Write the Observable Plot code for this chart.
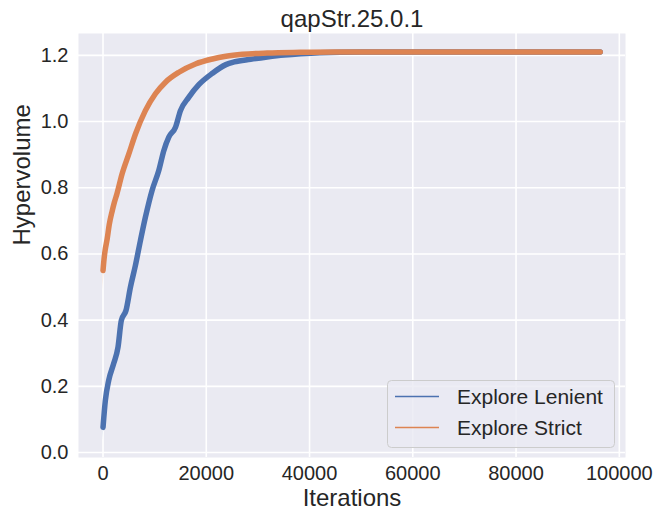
<!DOCTYPE html>
<html>
<head>
<meta charset="utf-8">
<script src="https://cdn.jsdelivr.net/npm/d3@7"></script>
<script src="https://cdn.jsdelivr.net/npm/@observablehq/plot@0.6"></script>
<style>
  html, body { margin: 0; padding: 0; background: white; }
  #chart { position: relative; width: 654px; height: 519px; }
  #legend { position: absolute; left: 387px; top: 380px; }
</style>
</head>
<body>
<div id="chart"></div>
<script>
// Mean hypervolume per iteration for the two exploration modes
const iterationsLenient = [0, 450, 1100, 2050, 2900, 3550, 4450, 5300, 6270, 7240, 8210, 9500, 10800, 11770, 12740, 14040, 15000, 16600, 18600, 21200, 23800, 25400, 28600, 31800, 35100, 38300, 42000, 50000, 70000, 96300];
const hvLenient = [0.076, 0.157, 0.218, 0.268, 0.318, 0.399, 0.429, 0.499, 0.565, 0.640, 0.711, 0.792, 0.852, 0.912, 0.953, 0.983, 1.033, 1.073, 1.112, 1.146, 1.172, 1.180, 1.188, 1.195, 1.201, 1.205, 1.208, 1.210, 1.210, 1.210];

const iterationsStrict = [0, 200, 400, 800, 1200, 1750, 2200, 2700, 3700, 5000, 6300, 8200, 10150, 12100, 14700, 17900, 21200, 23800, 27000, 31800, 38300, 45000, 60000, 80000, 96300];
const hvStrict = [0.550, 0.585, 0.610, 0.645, 0.688, 0.728, 0.756, 0.782, 0.842, 0.902, 0.963, 1.033, 1.084, 1.119, 1.149, 1.174, 1.189, 1.197, 1.203, 1.207, 1.209, 1.210, 1.210, 1.210, 1.210];

// Confidence band around the early part of each curve
const bandLenientX = [0, 450, 1100, 2050, 2900, 3550, 4450, 5300];
const bandLenientLo = [0.036, 0.140, 0.205, 0.255, 0.300, 0.385, 0.415, 0.490];
const bandLenientHi = [0.090, 0.170, 0.232, 0.282, 0.335, 0.410, 0.445, 0.510];
const bandStrictX = [0, 400, 800];
const bandStrictLo = [0.490, 0.590, 0.635];
const bandStrictHi = [0.560, 0.620, 0.655];

const seriesNames = ["Explore Lenient", "Explore Strict"];
const seriesColors = ["#4C72B0", "#DD8452"];

const xTicks = [0, 20000, 40000, 60000, 80000, 100000];
const yTicks = [0, 0.2, 0.4, 0.6, 0.8, 1.0, 1.2];

const chartTitle = "qapStr.25.0.1";
const xLabel = "Iterations";
const yLabel = "Hypervolume";

const rows = [
  ...iterationsLenient.map((x, i) => ({series: seriesNames[0], x, y: hvLenient[i]})),
  ...iterationsStrict.map((x, i) => ({series: seriesNames[1], x, y: hvStrict[i]}))
];
const bands = [
  ...bandLenientX.map((x, i) => ({series: seriesNames[0], x, lo: bandLenientLo[i], hi: bandLenientHi[i]})),
  ...bandStrictX.map((x, i) => ({series: seriesNames[1], x, lo: bandStrictLo[i], hi: bandStrictHi[i]}))
];

const font = "'Liberation Sans', Arial, Helvetica, sans-serif";
const ink = "#262626";

const plot = Plot.plot({
  width: 654,
  height: 519,
  marginLeft: 78,
  marginRight: 29,
  marginTop: 33,
  marginBottom: 62,
  style: {fontFamily: font, fontSize: "20px", color: ink, background: "white"},
  x: {domain: [-4750, 101200], label: null},
  y: {domain: [-0.015, 1.266], label: null},
  color: {domain: seriesNames, range: seriesColors},
  marks: [
    Plot.frame({fill: "#EAEAF2", stroke: null}),
    Plot.gridX(xTicks, {stroke: "white", strokeOpacity: 1, strokeWidth: 1.6}),
    Plot.gridY(yTicks, {stroke: "white", strokeOpacity: 1, strokeWidth: 1.6}),
    Plot.axisX({ticks: xTicks, tickFormat: d3.format("d"), tickSize: 0, tickPadding: 8, fontSize: 20, label: null}),
    Plot.axisY({ticks: yTicks, tickFormat: d3.format(".1f"), tickSize: 0, tickPadding: 10, fontSize: 20, label: null}),
    Plot.areaY(bands, {x: "x", y1: "lo", y2: "hi", z: "series", fill: "series", fillOpacity: 0.2, curve: "monotone-x"}),
    Plot.line(rows, {x: "x", y: "y", z: "series", stroke: "series", strokeWidth: 5.5, strokeLinecap: "round", strokeLinejoin: "round", curve: "monotone-x"}),
    Plot.text([chartTitle], {frameAnchor: "top", dy: -7, lineAnchor: "bottom", fontSize: 24, fill: ink}),
    Plot.text([xLabel], {frameAnchor: "bottom", dy: 48, lineAnchor: "bottom", fontSize: 24, fill: ink}),
    Plot.text([yLabel], {frameAnchor: "left", dx: -49, rotate: -90, lineAnchor: "bottom", fontSize: 24, fill: ink})
  ]
});

const chart = document.getElementById("chart");
chart.appendChild(plot);

// Legend box in the lower right of the plotting area
const legendW = 228, legendH = 68, rowGap = 31;
const legend = d3.select(chart).append("svg")
  .attr("id", "legend")
  .attr("width", legendW)
  .attr("height", legendH)
  .style("font-family", font);
legend.append("rect")
  .attr("x", 0.5).attr("y", 0.5)
  .attr("width", legendW - 1).attr("height", legendH - 1)
  .attr("rx", 4)
  .attr("fill", "#EAEAF2").attr("fill-opacity", 0.8)
  .attr("stroke", "#CCCCCC").attr("stroke-width", 1);
seriesNames.forEach((name, i) => {
  const cy = 16.5 + i * rowGap;
  legend.append("line")
    .attr("x1", 8).attr("x2", 52)
    .attr("y1", cy).attr("y2", cy)
    .attr("stroke", seriesColors[i]).attr("stroke-width", 1.5);
  legend.append("text")
    .attr("x", 70).attr("y", cy + 7.5)
    .attr("font-size", 21)
    .attr("fill", ink)
    .text(name);
});
</script>
</body>
</html>
